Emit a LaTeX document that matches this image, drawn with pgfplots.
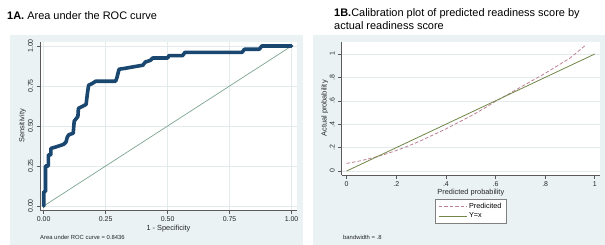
\documentclass[border=0pt]{standalone}
\usepackage{pgfplots}
\pgfplotsset{compat=1.18}
\usepackage{fontspec}
\setmainfont{Liberation Sans}
\definecolor{panel}{RGB}{234,242,243}
\definecolor{gridc}{RGB}{226,234,236}
\definecolor{axisc}{RGB}{90,90,90}
\definecolor{navy}{RGB}{26,71,111}
\definecolor{refc}{RGB}{125,165,145}
\definecolor{olivec}{RGB}{112,135,72}
\definecolor{pinkc}{RGB}{190,130,150}
\begin{document}
\begin{tikzpicture}
\useasboundingbox (0,0) rectangle (605bp,245bp);
\fill[white] (0,0) rectangle (605bp,245bp);
\fill[panel] (10bp,0) rectangle (303bp,210bp);
\fill[panel] (313bp,0) rectangle (605bp,210bp);
\node[anchor=base west,inner sep=0pt,font=\fontsize{11}{13}\selectfont] at (7bp,225bp) {\textbf{1A.} Area under the ROC curve};
\node[anchor=north west,inner sep=0pt,align=left,font=\fontsize{11}{13}\selectfont] at (334bp,236.5bp) {\textbf{1B.}Calibration plot of predicted readiness score by\\actual readiness score};
\pgfplotsset{
  stata/.style={
    scale only axis,
    axis x line*=bottom, axis y line*=left,
    axis line style={axisc,line width=0.6bp,-},
    axis background/.style={fill=white},
    tick align=outside,
    major tick length=3.5bp,
    tick style={axisc,line width=0.6bp},
    grid style={gridc,line width=0.6bp},
    ticklabel style={font=\fontsize{7}{8}\selectfont,black!85},
    yticklabel style={rotate=90,anchor=south},
    label style={font=\fontsize{7.4}{8.5}\selectfont,black!85},
  }
}
\begin{axis}[stata,
  at={(40bp,35bp)}, anchor=south west,
  width=257bp, height=168.3bp,
  xmin=-0.015, xmax=1.022, ymin=-0.025, ymax=1.027,
  xtick={0,0.25,0.5,0.75,1}, xticklabels={0.00,0.25,0.50,0.75,1.00},
  ytick={0,0.25,0.5,0.75,1}, yticklabels={0.00,0.25,0.50,0.75,1.00},
  xmajorgrids, ymajorgrids,
  xlabel={1 - Specificity}, ylabel={Sensitivity},
  xlabel style={at={(axis description cs:0.5,-0.109)},anchor=center},
  ylabel style={at={(axis description cs:-0.068,0.5)},anchor=center},
]
\addplot[refc,line width=0.7bp] coordinates {(0,0) (1,1)};
\addplot[navy,line width=3.6bp,line join=round,line cap=round] coordinates {
(0,0) (0,0.09) (0.007,0.09) (0.007,0.25) (0.019,0.25) (0.019,0.32) (0.029,0.32) (0.029,0.36)
(0.051,0.37) (0.08,0.385) (0.09,0.40) (0.095,0.43) (0.101,0.445) (0.119,0.455) (0.123,0.53)
(0.133,0.55) (0.138,0.56) (0.14,0.61) (0.159,0.625) (0.171,0.635) (0.176,0.70) (0.181,0.755)
(0.195,0.765) (0.21,0.78) (0.29,0.78) (0.295,0.80) (0.304,0.855) (0.326,0.86) (0.362,0.87)
(0.40,0.88) (0.41,0.90) (0.43,0.91) (0.44,0.925) (0.50,0.925) (0.505,0.94) (0.56,0.94)
(0.57,0.96) (0.80,0.96) (0.81,0.98) (0.87,0.98) (0.88,1.0) (1.0,1.0)};
\end{axis}
\node[anchor=base west,inner sep=0pt,font=\fontsize{5.9}{7}\selectfont,black!85] at (40bp,5.5bp) {Area under ROC curve = 0.8436};
\begin{axis}[stata,
  at={(341.7bp,70bp)}, anchor=south west,
  width=258.3bp, height=133.3bp,
  xmin=-0.02, xmax=1.021, ymin=-0.034, ymax=1.105,
  xtick={0,0.2,0.4,0.6,0.8,1}, xticklabels={0,.2,.4,.6,.8,1},
  ytick={0,0.2,0.4,0.6,0.8,1}, yticklabels={0,.2,.4,.6,.8,1},
  ymajorgrids,
  xlabel={Predicted probability}, ylabel={Actual probability},
  xlabel style={at={(axis description cs:0.5,-0.135)},anchor=center},
  ylabel style={at={(axis description cs:-0.066,0.5)},anchor=center},
  legend style={at={(0.5,-0.18)},anchor=north,draw=gray,line width=0.5bp,fill=white,
    font=\fontsize{7.3}{8.5}\selectfont,inner xsep=3bp,inner ysep=2bp,row sep=-1bp},
  legend cell align=left,
  legend image code/.code={\draw[#1] (0bp,0bp) -- (28bp,0bp);},
]
\addplot[pinkc,line width=0.8bp,dash pattern=on 3.5bp off 2bp] coordinates {
(0,0.065) (0.05,0.085) (0.1,0.11) (0.15,0.14) (0.2,0.175) (0.25,0.215) (0.3,0.26) (0.35,0.31)
(0.4,0.36) (0.45,0.415) (0.5,0.47) (0.55,0.53) (0.6,0.595) (0.65,0.655) (0.7,0.715) (0.75,0.775)
(0.8,0.835) (0.85,0.9) (0.9,0.965) (0.96,1.07)};
\addlegendentry{Predicited}
\addplot[olivec,line width=0.8bp] coordinates {(0,0) (1,1)};
\addlegendentry{Y=x}
\end{axis}
\node[anchor=base west,inner sep=0pt,font=\fontsize{5.9}{7}\selectfont,black!85] at (343bp,5.5bp) {bandwidth = .8};
\end{tikzpicture}
\end{document}
